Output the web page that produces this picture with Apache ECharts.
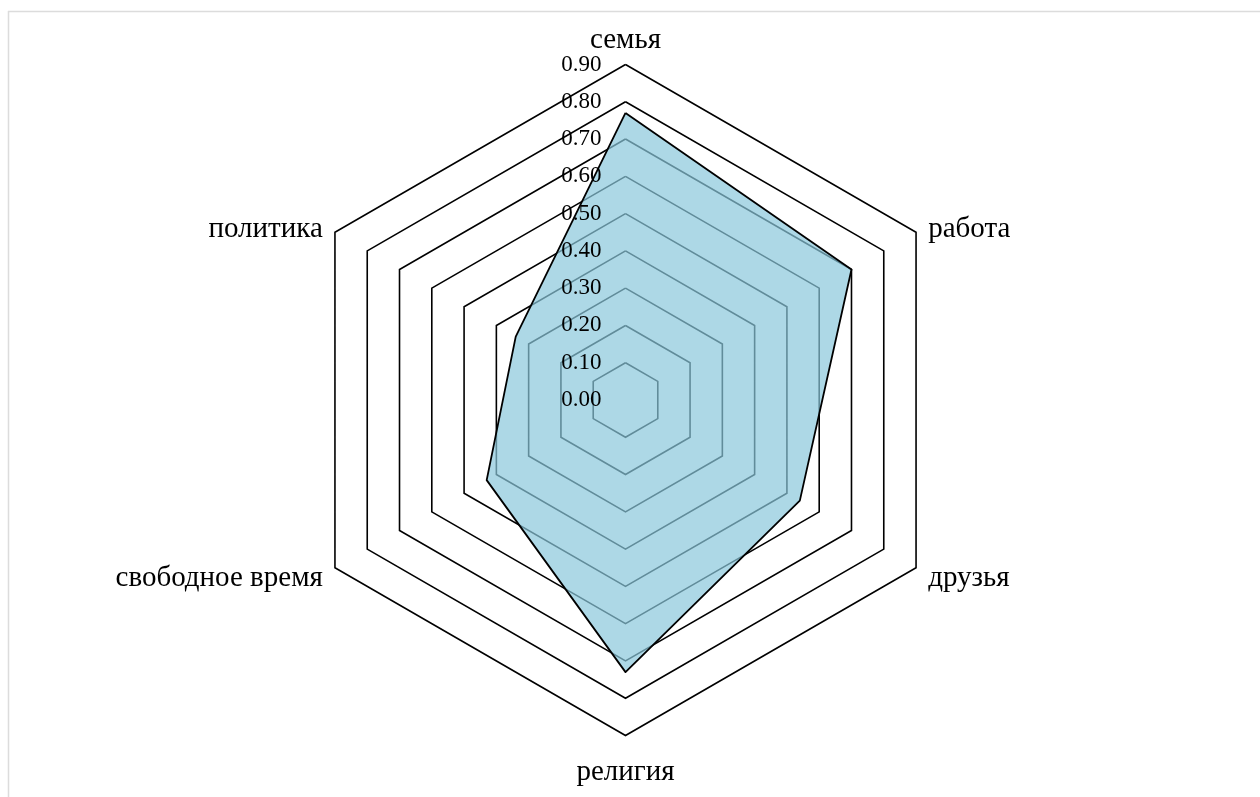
<!DOCTYPE html>
<html>
<head>
<meta charset="utf-8">
<script src="https://cdn.jsdelivr.net/npm/echarts@6/dist/echarts.min.js"></script>
<style>
html,body{margin:0;padding:0;background:#fff;}
#chart{width:1260px;height:797px;}
</style>
</head>
<body>
<div id="chart"></div>
<script>
// Categories in the reference's clockwise order, starting at the top
const categories = ['семья', 'работа', 'друзья', 'религия', 'свободное время', 'политика'];
const values = [0.77, 0.70, 0.54, 0.73, 0.43, 0.34];
const axisMin = 0;
const axisMax = 0.9;
const splitCount = 9;

// ECharts radar runs counter-clockwise; reorder so the display goes clockwise
const order = [0, 5, 4, 3, 2, 1];
const dispCats = order.map(i => categories[i]);
const dispVals = order.map(i => values[i]);

const chart = echarts.init(document.getElementById('chart'), null, {renderer: 'canvas'});
const FONT = '"Liberation Serif", "Times New Roman", serif';
const CENTER = [625.5, 400];
const RADIUS = 335.5;

const gridIndicators = dispCats.map(name => ({name: name, min: axisMin, max: axisMax}));
const labelIndicators = dispCats.map((name, i) => {
  const ind = {name: name, min: axisMin, max: axisMax};
  if (i !== 0) ind.axisLabel = {show: false};
  return ind;
});

chart.setOption({
  animation: false,
  backgroundColor: '#fff',
  graphic: [
    {type: 'line', shape: {x1: 8, y1: 11.5, x2: 1260, y2: 11.5}, style: {stroke: '#dcdcdc', lineWidth: 1.5}},
    {type: 'line', shape: {x1: 8.5, y1: 11, x2: 8.5, y2: 797}, style: {stroke: '#dcdcdc', lineWidth: 1.5}}
  ],
  radar: [{
    center: CENTER,
    radius: RADIUS,
    startAngle: 90,
    shape: 'polygon',
    splitNumber: splitCount,
    indicator: gridIndicators,
    nameGap: 14,
    axisName: {
      color: '#000', fontFamily: FONT, fontSize: 29,
      padding: [8, 0, 0, 0],
      formatter: function (name) {
        return name === categories[0] ? '{t|' + name + '}' : name;
      },
      rich: {
        t: {color: '#000', fontFamily: FONT, fontSize: 29, lineHeight: 21}
      }
    },
    axisLine: {show: false},
    axisTick: {show: false},
    splitArea: {show: false},
    splitLine: {lineStyle: {color: '#000', width: 1.6}},
    axisLabel: {show: false}
  }, {
    z: 10,
    center: CENTER,
    radius: RADIUS,
    startAngle: 90,
    shape: 'polygon',
    splitNumber: splitCount,
    indicator: labelIndicators,
    axisName: {show: false},
    axisLine: {show: false},
    axisTick: {show: false},
    splitArea: {show: false},
    splitLine: {show: false},
    axisLabel: {
      show: true,
      color: '#000',
      fontFamily: FONT,
      fontSize: 23,
      margin: 24,
      formatter: v => v.toFixed(2)
    }
  }],
  series: [{
    type: 'radar',
    radarIndex: 0,
    symbol: 'none',
    lineStyle: {width: 0, opacity: 0},
    areaStyle: {color: 'rgb(138,199,219)', opacity: 0.7},
    data: [{value: dispVals}]
  }, {
    type: 'radar',
    radarIndex: 0,
    z: 5,
    symbol: 'none',
    lineStyle: {color: '#000', width: 1.8},
    data: [{value: dispVals}]
  }]
});
</script>
</body>
</html>
